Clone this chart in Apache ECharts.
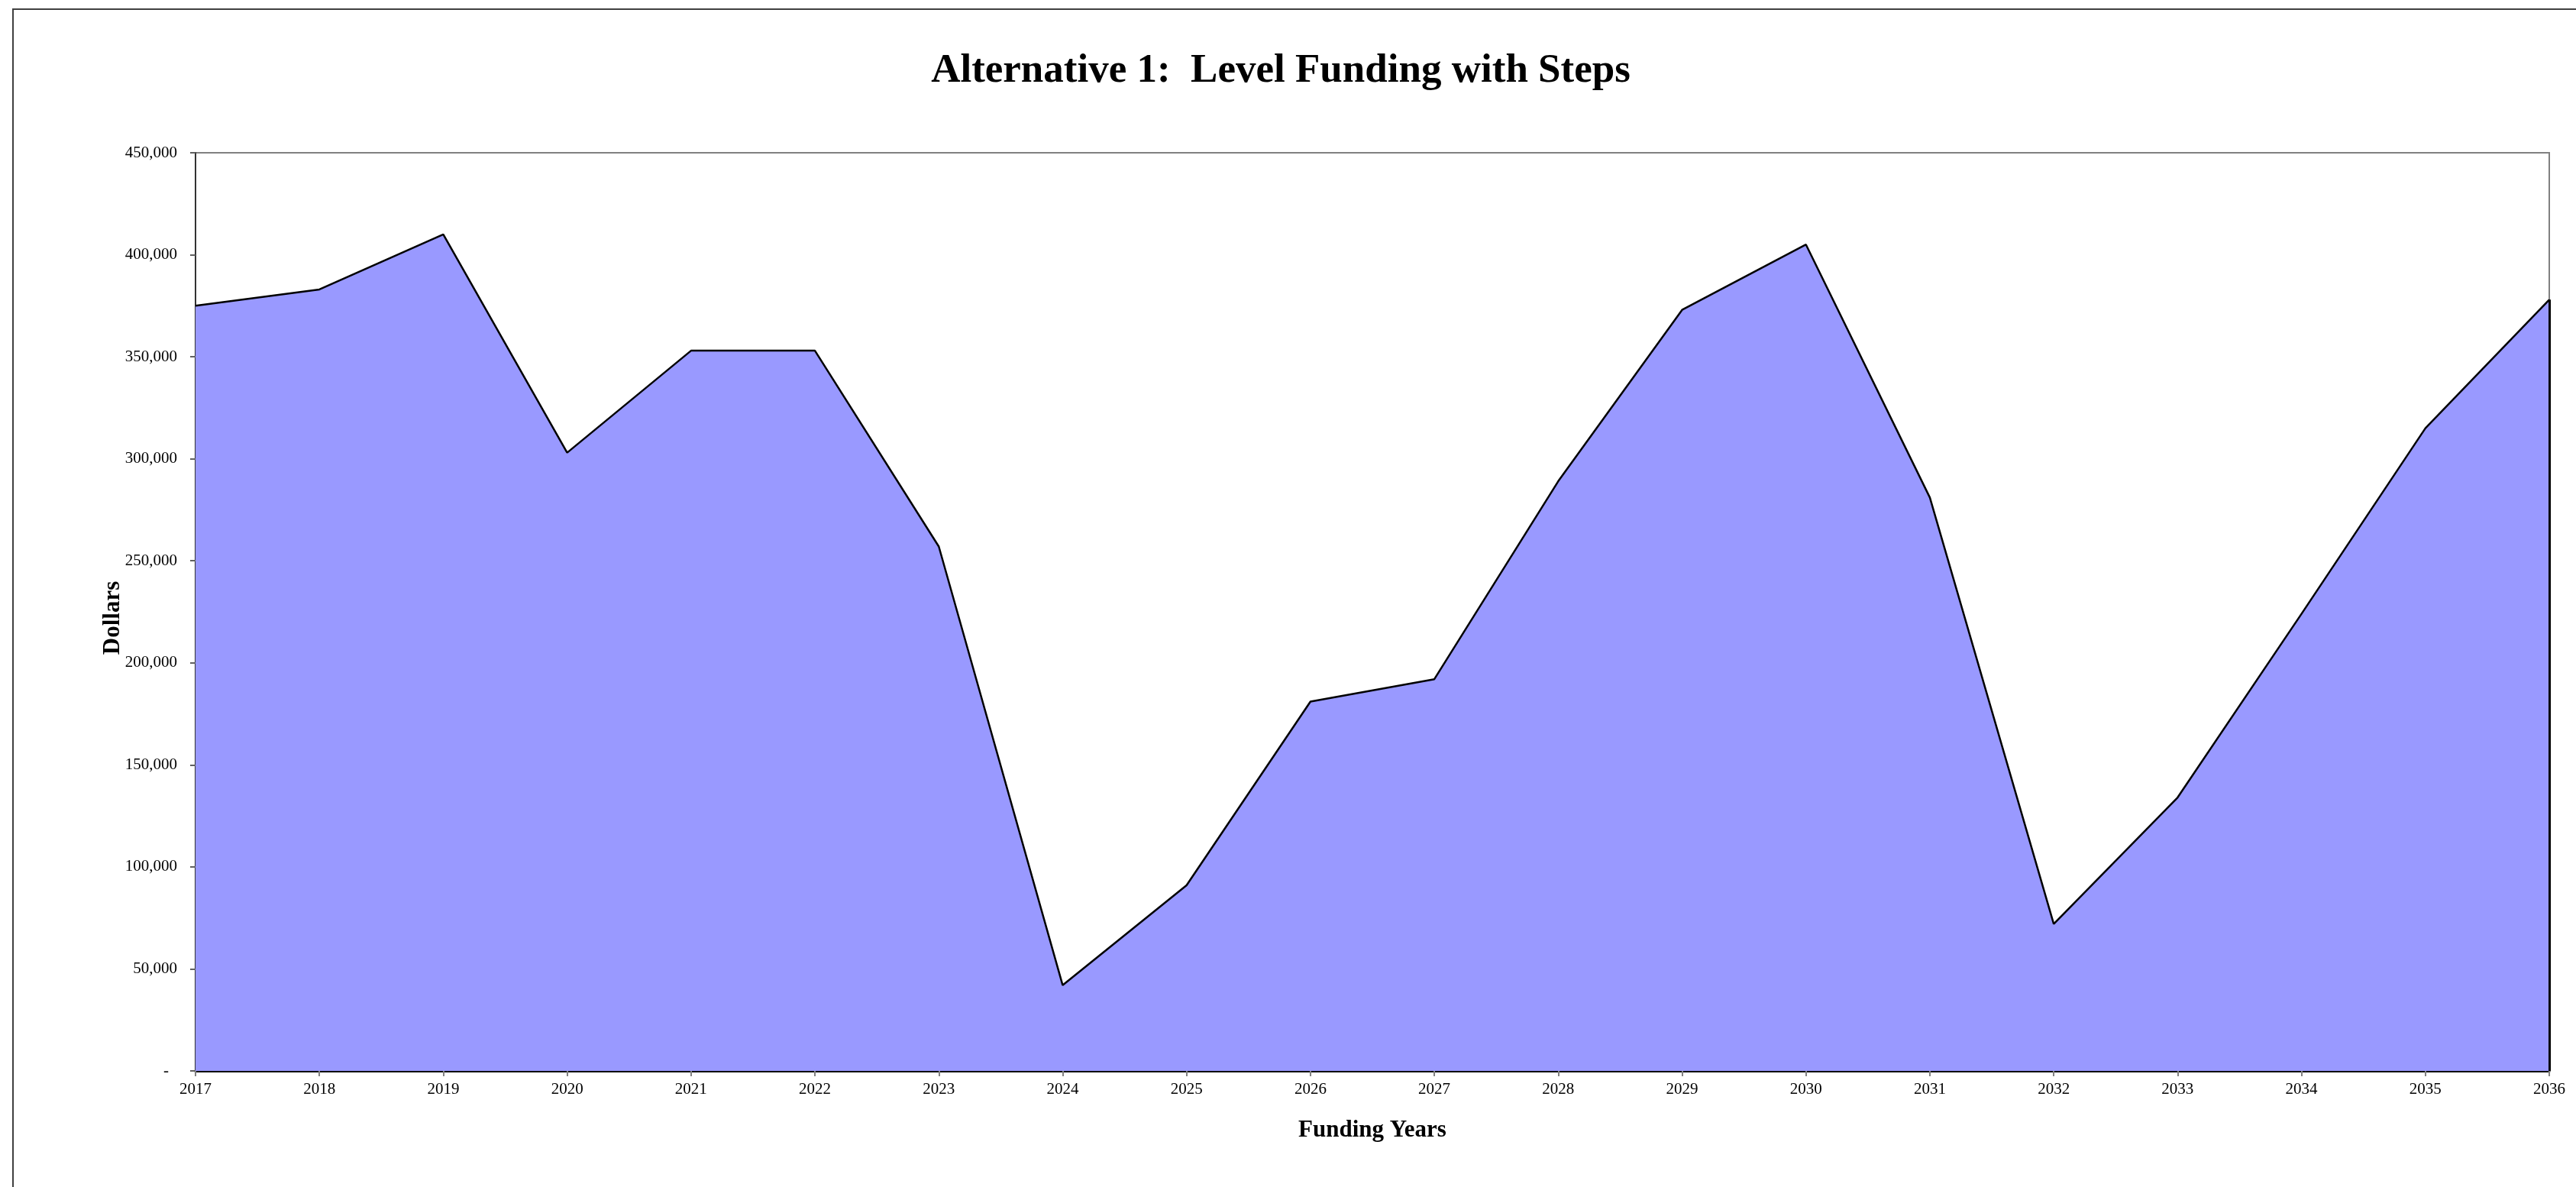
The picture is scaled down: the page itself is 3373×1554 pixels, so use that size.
<!DOCTYPE html>
<html>
<head>
<meta charset="utf-8">
<script src="https://cdn.jsdelivr.net/npm/echarts@6/dist/echarts.min.js"></script>
<style>
  * { margin: 0; padding: 0; }
  html, body { background: #fff; }
  #main { width: 3373px; height: 1554px; }
</style>
</head>
<body>
<!-- chart container -->
<div id="main"></div>
<script>
// funding years on the x axis
var years = ['2017','2018','2019','2020','2021','2022','2023','2024','2025','2026',
             '2027','2028','2029','2030','2031','2032','2033','2034','2035','2036'];
// dollars per year
var dollars = [375000, 383000, 410000, 303000, 353000, 353000, 257000, 42000, 91000, 181000,
               192000, 289000, 373000, 405000, 281000, 72000, 134000, 224000, 315000, 378000];
// y axis range
var yMin = 0;
var yMax = 450000;
var yStep = 50000;

var serif = '"Liberation Serif", "Times New Roman", serif';

function getOption() {
    return {
        backgroundColor: '#fff',
        animation: false,
        title: {
            text: 'Alternative 1:  Level Funding with Steps',
            left: 1672,
            textAlign: 'center',
            top: 62,
            textStyle: {
                fontFamily: serif,
                fontWeight: 'bold',
                fontSize: 53,
                color: '#000'
            }
        },
        // outer chart frame
        graphic: [{
            type: 'rect',
            shape: { x: 17, y: 12, width: 3400, height: 1600 },
            style: { fill: 'none', stroke: '#404040', lineWidth: 2 },
            silent: true
        }],
        grid: {
            left: 256,
            right: 35,
            top: 200,
            bottom: 152,
            show: true,
            borderColor: '#808080',
            borderWidth: 2,
            backgroundColor: '#fff'
        },
        xAxis: {
            type: 'category',
            data: years,
            boundaryGap: false,
            name: 'Funding Years',
            nameLocation: 'middle',
            nameGap: 62,
            nameMoveOverlap: false,
            nameTextStyle: {
                fontFamily: serif,
                fontWeight: 'bold',
                fontSize: 31,
                color: '#000'
            },
            axisLine: { lineStyle: { color: '#000', width: 3 } },
            axisTick: { show: true, length: 7, lineStyle: { color: '#808080', width: 2 } },
            axisLabel: {
                fontFamily: serif,
                fontSize: 21,
                color: '#000',
                margin: 14,
                interval: 0
            },
            splitLine: { show: false }
        },
        yAxis: {
            type: 'value',
            min: yMin,
            max: yMax,
            interval: yStep,
            name: 'Dollars',
            nameLocation: 'middle',
            nameRotate: 90,
            nameGap: 93,
            nameMoveOverlap: false,
            nameTextStyle: {
                fontFamily: serif,
                fontWeight: 'bold',
                fontSize: 31,
                color: '#000',
                padding: [0, 16, 0, 0]
            },
            axisLine: { show: true, lineStyle: { color: '#333', width: 2 } },
            axisTick: { show: true, length: 7, lineStyle: { color: '#606060', width: 2 } },
            axisLabel: {
                fontFamily: serif,
                fontSize: 21,
                color: '#000',
                margin: 24,
                formatter: function (v) {
                    if (v === 0) return '{d|-}';
                    return v.toLocaleString('en-US');
                },
                rich: {
                    d: { fontFamily: serif, fontSize: 21, color: '#000', padding: [0, 11, 0, 0] }
                }
            },
            splitLine: { show: false }
        },
        series: [{
            name: 'Dollars',
            type: 'line',
            data: dollars,
            symbol: 'none',
            lineStyle: { color: '#000', width: 2.5 },
            itemStyle: { color: '#000' },
            areaStyle: { color: '#9999FF', opacity: 1 },
            // right edge of the area
            markLine: {
                silent: true,
                symbol: 'none',
                label: { show: false },
                lineStyle: { color: '#000', width: 3, type: 'solid' },
                data: [[
                    { coord: [years[years.length - 1], yMin] },
                    { coord: [years[years.length - 1], dollars[dollars.length - 1]] }
                ]]
            }
        }]
    };
}

var chart = echarts.init(document.getElementById('main'));
chart.setOption(getOption());
</script>
</body>
</html>
